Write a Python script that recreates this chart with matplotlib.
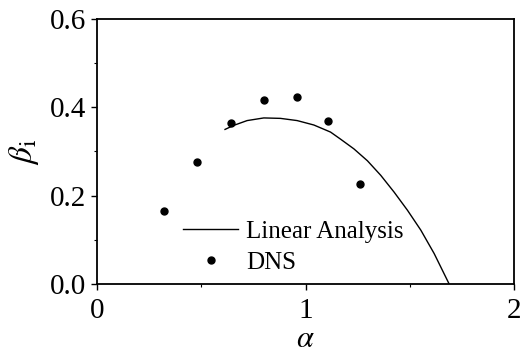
import matplotlib
matplotlib.use("Agg")
import matplotlib.pyplot as plt
from matplotlib.ticker import MultipleLocator

plt.rcParams["font.family"] = ["Liberation Serif", "DejaVu Serif"]
plt.rcParams["mathtext.fontset"] = "stix"

# linear stability curve, growth rate vs wavenumber
alpha_lin = [0.614, 0.655, 0.720, 0.800, 0.880, 0.960, 1.040, 1.120,
             1.168, 1.232, 1.297, 1.361, 1.425, 1.489, 1.553, 1.617, 1.689]
beta_lin = [0.350, 0.359, 0.370, 0.376, 0.375, 0.370, 0.360, 0.344,
            0.328, 0.306, 0.279, 0.246, 0.208, 0.167, 0.122, 0.069, 0.0]

# direct numerical simulation results
alpha_dns = [0.319, 0.479, 0.643, 0.800, 0.957, 1.107, 1.261]
beta_dns = [0.165, 0.277, 0.364, 0.417, 0.423, 0.368, 0.227]

fig = plt.figure(figsize=(5.24, 3.64), dpi=100)
ax = fig.add_axes([97 / 524, 1 - 284 / 364, 417 / 524, 265 / 364])

ax.plot(alpha_lin, beta_lin, color="black", linewidth=1.0, label="Linear Analysis")
ax.plot(alpha_dns, beta_dns, linestyle="none", marker="o", markersize=5,
        color="black", label="DNS")

ax.set_xlim(0, 2)
ax.set_ylim(0, 0.6)
ax.xaxis.set_major_locator(MultipleLocator(1))
ax.xaxis.set_minor_locator(MultipleLocator(0.5))
ax.yaxis.set_major_locator(MultipleLocator(0.2))
ax.yaxis.set_minor_locator(MultipleLocator(0.1))
ax.yaxis.set_major_formatter(lambda v, pos: f"{v:.1f}")

ax.tick_params(which="major", direction="out", length=4, width=1.0,
               labelsize=21, pad=4)
ax.tick_params(axis="x", which="major", pad=6)
ax.tick_params(which="minor", direction="out", length=2, width=0.8)
ax.tick_params(top=False, right=False)
for s in ax.spines.values():
    s.set_linewidth(1.3)

ax.set_xlabel(r"$\alpha$", fontsize=22, labelpad=1)
ax.set_ylabel(r"$\beta_{\rm i}$", fontsize=24, labelpad=6)

ax.legend(loc="lower left", bbox_to_anchor=(0.183, 0.0), frameon=False,
          fontsize=18, handlelength=2.2, handletextpad=0.3,
          labelspacing=0.35, borderaxespad=0)

fig.savefig("out.png", dpi=100)
